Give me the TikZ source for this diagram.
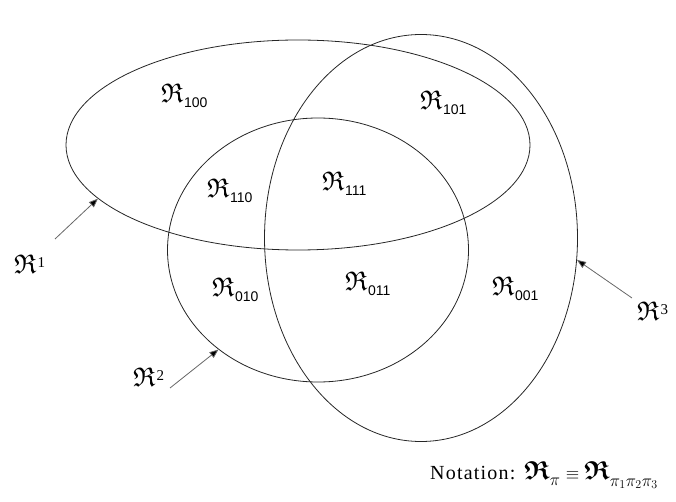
\documentclass[tikz,border=0pt]{standalone}
\usepackage{amsmath,amssymb}
\usepackage{fontspec}
\setmainfont{Liberation Serif}
\newfontfamily\arialf{Liberation Sans}
\usetikzlibrary{shapes.geometric,arrows.meta}
\newcommand{\bigR}{\hbox{\fontsize{27}{27}\selectfont$\mathfrak{R}$}}
\newcommand{\Rg}[1]{\bigR\kern0.5pt\raisebox{-5pt}{\arialf\fontsize{14}{14}\selectfont #1}}
\newcommand{\Rs}[1]{\bigR\kern1pt\raisebox{6pt}{\fontsize{15}{15}\selectfont #1}}
\tikzset{
  region/.style={draw=black!85, line width=0.8pt, ellipse, inner sep=0pt},
  lbl/.style={anchor=base west, inner sep=0pt},
  ptr/.style={draw=black!60, line width=0.8pt, -{Triangle[length=9pt,width=7pt,fill=black]}}
}
\begin{document}
\begin{tikzpicture}[x=1pt,y=-1pt]
\useasboundingbox (0,0) rectangle (676,502);
\node[region, minimum width=464pt, minimum height=210pt] (e1) at (298,145) {};
\node[region, minimum width=301pt, minimum height=264pt] (e2) at (318,250) {};
\node[region, minimum width=313pt, minimum height=407pt] (e3) at (421,238) {};

\node[lbl] (r100) at (161,103) {\Rg{100}};
\node[lbl] (r101) at (420,110) {\Rg{101}};
\node[lbl] (r110) at (207,198) {\Rg{110}};
\node[lbl] (r111) at (322,191) {\Rg{111}};
\node[lbl] (r010) at (212,296) {\Rg{010}};
\node[lbl] (r011) at (345,290) {\Rg{011}};
\node[lbl] (r001) at (492,295) {\Rg{001}};

\node[lbl] (l1) at (14,273) {\Rs{1}};
\node[lbl] (l2) at (133,386) {\Rs{2}};
\node[lbl] (l3) at (637,320) {\Rs{3}};

\coordinate (a1) at (55,239);
\coordinate (a2) at (170,388);
\coordinate (a3) at (632,298);
\draw[ptr] (a1) -- (e1.195);
\draw[ptr] (a2) -- (e2.225);
\draw[ptr] (a3) -- (e3.-8);

\node[anchor=base west, inner sep=0pt] (nt) at (430,479)
  {\fontsize{20}{22}\selectfont\addfontfeature{LetterSpace=6}Notation:\kern9pt
   \hbox{\fontsize{26}{26}\selectfont$\boldsymbol{\mathfrak{R}}$}\raisebox{-6pt}{\fontsize{17}{17}\selectfont$\pi$}\kern6pt
   \hbox{\fontsize{18}{18}\selectfont$\equiv$}\kern5pt
   \hbox{\fontsize{26}{26}\selectfont$\boldsymbol{\mathfrak{R}}$}\raisebox{-7pt}{\fontsize{17}{17}\selectfont$\pi_{1}\pi_{2}\pi_{3}$}};
\end{tikzpicture}
\end{document}
